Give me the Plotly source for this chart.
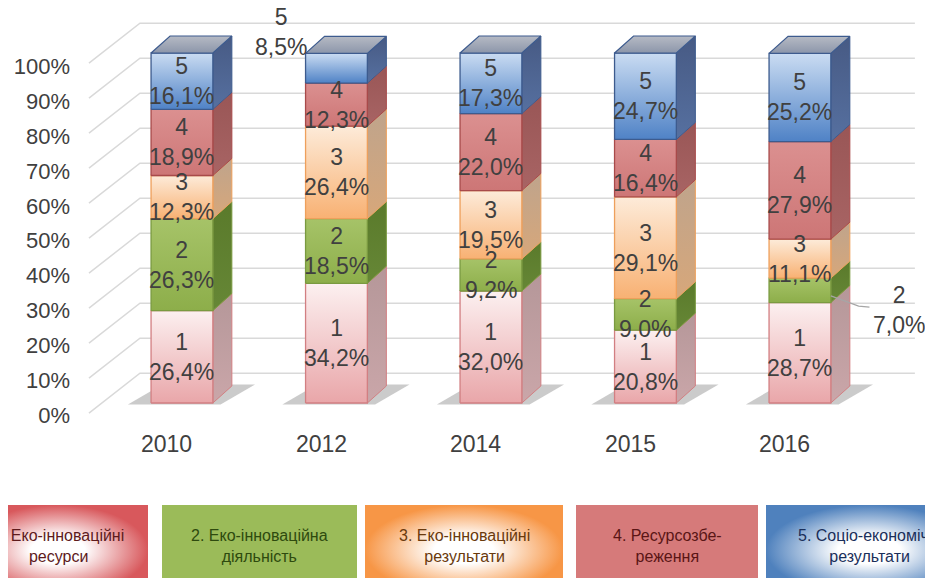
import plotly.graph_objects as go

# ---- data ---------------------------------------------------------------
years = ["2010", "2012", "2014", "2015", "2016"]
series_ids = ["1", "2", "3", "4", "5"]
legend_labels = [
    "1. Еко-інноваційні<br>ресурси",
    "2. Еко-інноваційна<br>діяльність",
    "3. Еко-інноваційні<br>результати",
    "4. Ресурсозбе-<br>реження",
    "5. Соціо-економічні<br>результати",
]
eco_resources = [26.4, 34.2, 32.0, 20.8, 28.7]
eco_activity = [26.3, 18.5, 9.2, 9.0, 7.0]
eco_results = [12.3, 26.4, 19.5, 29.1, 11.1]
resource_saving = [18.9, 12.3, 22.0, 16.4, 27.9]
socio_economic = [16.1, 8.5, 17.3, 24.7, 25.2]
y_ticks = [0, 10, 20, 30, 40, 50, 60, 70, 80, 90, 100]

series = [eco_resources, eco_activity, eco_results, resource_saving, socio_economic]

# ---- styles ---------------------------------------------------------------
front_top = ["#fcf0f0", "#a6c368", "#fdebd9", "#db9090", "#cadcf2"]
front_bot = ["#e9a6a9", "#8dae4a", "#f8b173", "#cd7676", "#4f82c6"]
side_top = ["#b59799", "#5a7a2b", "#bfa48c", "#995656", "#475a84"]
side_bot = ["#caa6a9", "#668736", "#d7a77a", "#a86464", "#5670a0"]
border = ["#d27f82", "#7a9a40", "#eea05c", "#a84a4a", "#3d5b8e"]
top_face = ["#8c96aa", "#b6bac4"]

legend_fill = ["#d8585c", "#9bbb59", "#f79646", "#d67a7a", "#4f81bd"]
legend_grad = ["radial", None, "radial", None, "radial"]
legend_text = ["#5e1a1c", "#2e4a0e", "#6a3a0c", "#5a1515", "#1a2f5a"]
legend_x = [(-32, 148), (162, 357), (365, 563), (576, 758), (766, 972)]

bar_w = 0.40
dx, dy = 0.123, 4.86
label_font = dict(family="Liberation Sans, Arial, sans-serif", size=23, color="#404040")

fig = go.Figure()

# back wall + floor grid lines
gx, gy = [], []
for v in y_ticks:
    gx += [4.744, -0.272, -0.602, None]
    gy += [v + 8.5, v + 8.5, v - 2.9, None]
fig.add_trace(go.Scatter(x=gx, y=gy, mode="lines", line=dict(color="#d9d9d9", width=1.5),
                         hoverinfo="skip", showlegend=False))

# bar shadows
for i in range(len(years)):
    x0, x1 = i - bar_w / 2, i + bar_w / 2
    fig.add_trace(go.Scatter(
        x=[x0 - 0.15, x1 + 0.05, x1 + dx + 0.15, x0 + dx - 0.05, x0 - 0.15],
        y=[-0.4, -0.4, dy + 0.4, dy + 0.4, -0.4],
        fill="toself", fillcolor="rgba(70,70,70,0.28)", line=dict(width=0),
        mode="lines", hoverinfo="skip", showlegend=False))

annotations = []
for i, year in enumerate(years):
    x0, x1 = i - bar_w / 2, i + bar_w / 2
    base = 0.0
    for k, vals in enumerate(series):
        v = vals[i]
        b, t = base, base + v
        # side face
        fig.add_trace(go.Scatter(
            x=[x1, x1 + dx, x1 + dx, x1, x1], y=[b, b + dy, t + dy, t, b],
            fill="toself", mode="lines", line=dict(color=border[k], width=1),
            fillgradient=dict(type="vertical", colorscale=[[0, side_bot[k]], [1, side_top[k]]]),
            hoverinfo="skip", showlegend=False))
        # front face
        fig.add_trace(go.Scatter(
            x=[x0, x1, x1, x0, x0], y=[b, b, t, t, b],
            fill="toself", mode="lines", line=dict(color=border[k], width=1.3),
            fillgradient=dict(type="vertical", colorscale=[[0, front_bot[k]], [1, front_top[k]]]),
            hoverinfo="skip", showlegend=False))
        # data label
        text = f"{series_ids[k]}<br>{v:.1f}%".replace(".", ",")
        lx, ly = i, b + v / 2
        if (i, k) == (1, 4):
            lx, ly = i - 0.36, t + 6.0
        if (i, k) == (4, 1):
            lx, ly = i + 0.64, b + v / 2 - 5.6
            cy = b + v / 2
            fig.add_trace(go.Scatter(
                x=[x1, i + 0.38, i + 0.45], y=[cy - 1.6, cy - 4.5, cy - 4.8],
                mode="lines", line=dict(color="#a6a6a6", width=1.2),
                hoverinfo="skip", showlegend=False))
        annotations.append(dict(x=lx, y=ly, xref="x", yref="y", text=text, showarrow=False,
                                font=label_font, align="center"))
        base = t
    # top face
    fig.add_trace(go.Scatter(
        x=[x0, x1, x1 + dx, x0 + dx, x0], y=[base, base, base + dy, base + dy, base],
        fill="toself", mode="lines", line=dict(color=border[4], width=1.2),
        fillgradient=dict(type="vertical", colorscale=[[0, top_face[0]], [1, top_face[1]]]),
        hoverinfo="skip", showlegend=False))
    annotations.append(dict(x=i - 0.1, y=-11.7, xref="x", yref="y", text=year,
                            showarrow=False, font=label_font))

# legend boxes (pixel-like axes)
for k, name in enumerate(legend_labels):
    a, c = legend_x[k]
    kw = dict(fillcolor=legend_fill[k])
    if legend_grad[k]:
        kw = dict(fillgradient=dict(type=legend_grad[k],
                                    colorscale=[[0, "#ffffff"], [0.3, "#ffffff"], [1, legend_fill[k]]]))
    fig.add_trace(go.Scatter(
        x=[a, c, c, a, a], y=[505, 505, 595, 595, 505], fill="toself", mode="lines",
        line=dict(width=0), xaxis="x2", yaxis="y2", hoverinfo="skip", showlegend=False, **kw))
    annotations.append(dict(x=(a + c) / 2, y=546, xref="x2", yref="y2", text=name, showarrow=False,
                            font=dict(family="Liberation Sans, Arial, sans-serif",
                                      size=16, color=legend_text[k]), align="center"))

# carrier for the percentage axis
fig.add_trace(go.Scatter(x=[None], y=[None], yaxis="y3", showlegend=False, hoverinfo="skip"))

fig.update_layout(
    width=933, height=578,
    margin=dict(l=0, r=0, t=0, b=0),
    paper_bgcolor="white", plot_bgcolor="white",
    showlegend=False,
    xaxis=dict(range=[-1.126, 4.913], visible=False),
    yaxis=dict(range=[-52.29, 112.86], visible=False),
    xaxis2=dict(range=[8, 941], overlaying="x", visible=False),
    yaxis2=dict(range=[586, 8], overlaying="y", visible=False),
    yaxis3=dict(range=[-48.78, 116.6], overlaying="y", anchor="free", position=0.0665,
                tickvals=y_ticks, ticktext=[f"{v}%" for v in y_ticks],
                showgrid=False, zeroline=False, showline=False, ticks="",
                tickfont=dict(family="Liberation Sans, Arial, sans-serif", size=22, color="#404040")),
    annotations=annotations,
)

fig.write_html("out.html")
